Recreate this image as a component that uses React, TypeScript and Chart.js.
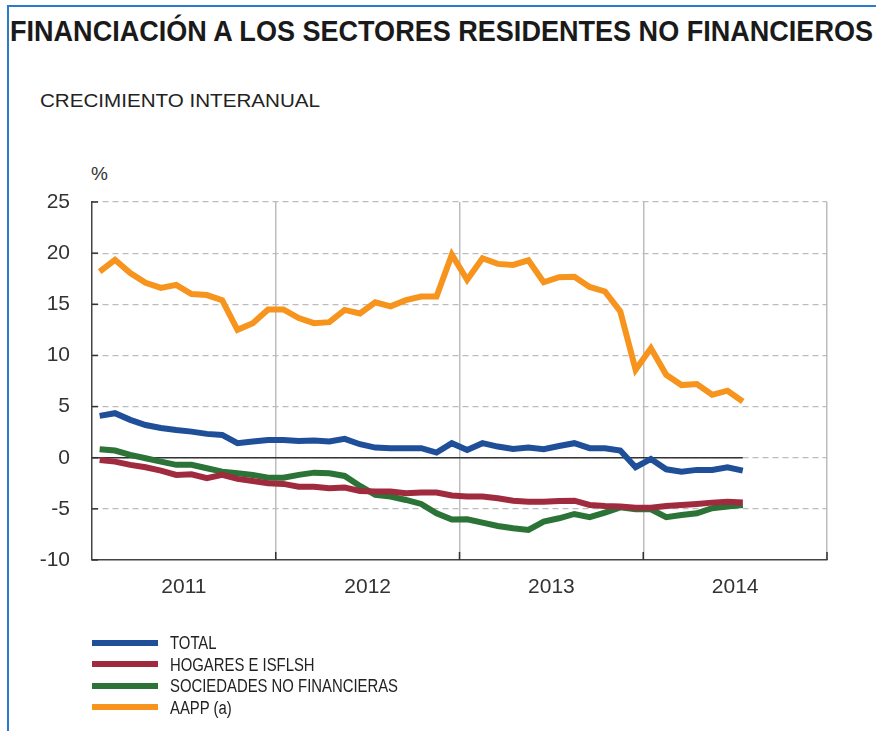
import React, { useEffect, useLayoutEffect, useRef } from 'react';
import { Chart, registerables } from 'chart.js';

Chart.register(...registerables);

// ---------- DATA ----------
const years = ['2011', '2012', '2013', '2014'];
const seriesNames = ['TOTAL', 'HOGARES E ISFLSH', 'SOCIEDADES NO FINANCIERAS', 'AAPP (a)'];
const seriesColors = ['#1f4f99', '#a12b3e', '#2b7336', '#f7941e'];

// Monthly values, Jan 2011 .. Jul 2014 (% year-on-year growth)
const total = [
  4.09, 4.35, 3.7, 3.2, 2.9, 2.7, 2.55, 2.33, 2.23, 1.42, 1.58, 1.74,
  1.74, 1.64, 1.68, 1.58, 1.84, 1.32, 0.99, 0.93, 0.93, 0.93, 0.5, 1.42,
  0.76, 1.42, 1.09, 0.86, 0.99, 0.83, 1.15, 1.42, 0.93, 0.93, 0.7, -0.93,
  -0.12, -1.13, -1.36, -1.19, -1.19, -0.93, -1.26,
];
const hogares = [
  -0.22, -0.38, -0.7, -0.93, -1.26, -1.68, -1.62, -2.0, -1.68, -2.07, -2.27, -2.5,
  -2.56, -2.83, -2.83, -2.99, -2.92, -3.25, -3.31, -3.31, -3.48, -3.41, -3.41, -3.7,
  -3.8, -3.8, -3.96, -4.2, -4.3, -4.3, -4.23, -4.2, -4.62, -4.72, -4.78, -4.88,
  -4.88, -4.72, -4.62, -4.52, -4.39, -4.3, -4.39,
];
const sociedades = [
  0.83, 0.7, 0.27, -0.05, -0.38, -0.7, -0.7, -1.03, -1.36, -1.52, -1.68, -1.95,
  -1.95, -1.68, -1.46, -1.52, -1.78, -2.76, -3.64, -3.8, -4.13, -4.52, -5.43, -6.05,
  -6.02, -6.35, -6.67, -6.9, -7.06, -6.25, -5.92, -5.5, -5.82, -5.37, -4.85, -5.04,
  -5.04, -5.82, -5.6, -5.43, -4.94, -4.78, -4.62,
];
const aapp = [
  18.2, 19.35, 18.05, 17.1, 16.6, 16.9, 16.0, 15.9, 15.4, 12.5, 13.15, 14.5,
  14.5, 13.65, 13.15, 13.25, 14.45, 14.1, 15.2, 14.8, 15.4, 15.75, 15.75, 19.85,
  17.4, 19.5, 18.95, 18.85, 19.3, 17.15, 17.65, 17.7, 16.7, 16.25, 14.3, 8.6,
  10.7, 8.1, 7.1, 7.2, 6.15, 6.55, 5.5,
];
const seriesValues = [total, hogares, sociedades, aapp];

const yMin = -10;
const yMax = 25;
const yStep = 5;
const monthsPerYear = 12;

const TITLE = 'FINANCIACIÓN A LOS SECTORES RESIDENTES NO FINANCIEROS';
const SUBTITLE = 'CRECIMIENTO INTERANUAL';
const UNIT = '%';

const FONT = '"Liberation Sans", Arial, Helvetica, sans-serif';
const NARROW = '"Liberation Sans Narrow", "Liberation Sans", Arial, sans-serif';

// ---------- helpers ----------
function FitText({ text, width, style }: { text: string; width: number; style: React.CSSProperties }) {
  const ref = useRef<HTMLSpanElement>(null);
  useLayoutEffect(() => {
    const el = ref.current;
    if (!el) return;
    el.style.transform = 'none';
    const w = el.getBoundingClientRect().width;
    if (w > 0) el.style.transform = `scaleX(${width / w})`;
  }, [text, width]);
  return (
    <span
      ref={ref}
      style={{ display: 'inline-block', whiteSpace: 'nowrap', transformOrigin: '0 0', ...style }}
    >
      {text}
    </span>
  );
}

function Legend() {
  const refs = useRef<(HTMLSpanElement | null)[]>([]);
  useLayoutEffect(() => {
    const els = refs.current.filter(Boolean) as HTMLSpanElement[];
    els.forEach((e) => (e.style.transform = 'none'));
    const longest = Math.max(...els.map((e) => e.getBoundingClientRect().width));
    const s = 228 / longest;
    els.forEach((e) => (e.style.transform = `scaleX(${s})`));
  }, []);
  return (
    <>
      {seriesNames.map((name, i) => (
        <div key={name} style={{ position: 'absolute', left: 92, top: 634 + i * 21.5, height: 18 }}>
          <div
            style={{
              position: 'absolute',
              left: 0,
              top: 5.5,
              width: 66,
              height: 6,
              background: seriesColors[i],
            }}
          />
          <span
            ref={(el) => (refs.current[i] = el)}
            style={{
              position: 'absolute',
              left: 78,
              top: 0,
              whiteSpace: 'nowrap',
              transformOrigin: '0 0',
              font: `18px/18px ${NARROW}`,
              color: '#222',
            }}
          >
            {name}
          </span>
        </div>
      ))}
    </>
  );
}

const innerTicks = {
  id: 'innerTicks',
  afterDraw(chart: any) {
    const { ctx, chartArea, scales } = chart;
    const x = scales.x;
    const y = scales.y;
    ctx.save();
    ctx.strokeStyle = '#333';
    ctx.lineWidth = 1.5;
    y.ticks.forEach((t: any) => {
      const py = y.getPixelForValue(t.value);
      ctx.beginPath();
      ctx.moveTo(chartArea.left, py);
      ctx.lineTo(chartArea.left + 6, py);
      ctx.stroke();
    });
    x.ticks.forEach((t: any) => {
      if (t.value % monthsPerYear === 0 && t.value > 0) {
        const px = x.getPixelForValue(t.value);
        ctx.beginPath();
        ctx.moveTo(px, chartArea.bottom);
        ctx.lineTo(px, chartArea.bottom - 8);
        ctx.stroke();
      }
    });
    ctx.restore();
  },
};

export default function App() {
  const canvasRef = useRef<HTMLCanvasElement>(null);

  useEffect(() => {
    document.body.style.margin = '0';
    const canvas = canvasRef.current;
    if (!canvas) return;
    const n = total.length;
    const toPoints = (vals: number[]) => vals.map((v, i) => ({ x: i + 0.5, y: v }));

    const datasets: any[] = seriesValues.map((vals, i) => ({
      label: seriesNames[i],
      data: toPoints(vals),
      borderColor: seriesColors[i],
      backgroundColor: seriesColors[i],
      borderWidth: 6,
      pointRadius: 0,
      tension: 0,
      borderJoinStyle: 'miter',
      borderCapStyle: 'butt',
      fill: false,
    }));
    datasets.push({
      label: 'zero',
      data: [
        { x: 0, y: 0 },
        { x: n - 0.5, y: 0 },
      ],
      borderColor: '#333',
      borderWidth: 1.5,
      pointRadius: 0,
      fill: false,
    });

    const chart = new Chart(canvas, {
      type: 'line',
      data: { datasets },
      options: {
        animation: false,
        responsive: false,
        maintainAspectRatio: false,
        layout: { padding: { top: 202, right: 49, bottom: 131, left: 0 } },
        plugins: {
          legend: { display: false },
          tooltip: { enabled: false },
          title: { display: false },
        },
        scales: {
          x: {
            type: 'linear',
            min: 0,
            max: years.length * monthsPerYear,
            afterFit: (s: any) => {
              s.height = 40;
            },
            ticks: {
              stepSize: monthsPerYear / 2,
              autoSkip: false,
              maxRotation: 0,
              padding: 15,
              color: '#333',
              font: { size: 21, family: FONT },
              callback: (v: any) =>
                v % monthsPerYear === monthsPerYear / 2 ? years[(v - monthsPerYear / 2) / monthsPerYear] : '',
            },
            grid: {
              drawTicks: false,
              lineWidth: 1.5,
              color: (c: any) =>
                c.tick && c.tick.value % monthsPerYear === 0 && c.tick.value > 0 ? '#bdbdbd' : 'transparent',
            },
            border: { display: true, color: '#444', width: 1.5 },
          },
          y: {
            min: yMin,
            max: yMax,
            afterFit: (s: any) => {
              s.width = 92;
            },
            ticks: {
              stepSize: yStep,
              padding: 22,
              color: '#333',
              font: { size: 21, family: FONT },
            },
            grid: {
              drawTicks: false,
              lineWidth: 1.2,
              color: (c: any) => (c.tick && c.tick.value === yMin ? 'transparent' : '#bcbcbc'),
            },
            border: { display: true, color: '#444', width: 1.5, dash: [6, 4] },
          },
        },
      } as any,
      plugins: [innerTicks],
    });
    return () => chart.destroy();
  }, []);

  return (
    <div style={{ position: 'relative', width: 876, height: 731, background: '#fff', overflow: 'hidden' }}>
      <div style={{ position: 'absolute', left: 7, top: 5, width: 869, height: 2, background: '#2a7bc8' }} />
      <div style={{ position: 'absolute', left: 7, top: 5, width: 2, height: 726, background: '#2a7bc8' }} />
      <div style={{ position: 'absolute', left: 10, top: 16.5 }}>
        <FitText
          text={TITLE}
          width={863}
          style={{ font: `bold 29px/29px ${FONT}`, color: '#1a1a1a' }}
        />
      </div>
      <div style={{ position: 'absolute', left: 40, top: 92 }}>
        <FitText text={SUBTITLE} width={280} style={{ font: `18px/18px ${FONT}`, color: '#222' }} />
      </div>
      <div style={{ position: 'absolute', left: 91, top: 164, font: `19px/19px ${FONT}`, color: '#333' }}>
        {UNIT}
      </div>
      <canvas
        ref={canvasRef}
        width={876}
        height={731}
        style={{ position: 'absolute', left: 0, top: 0, width: 876, height: 731 }}
      />
      <Legend />
    </div>
  );
}
